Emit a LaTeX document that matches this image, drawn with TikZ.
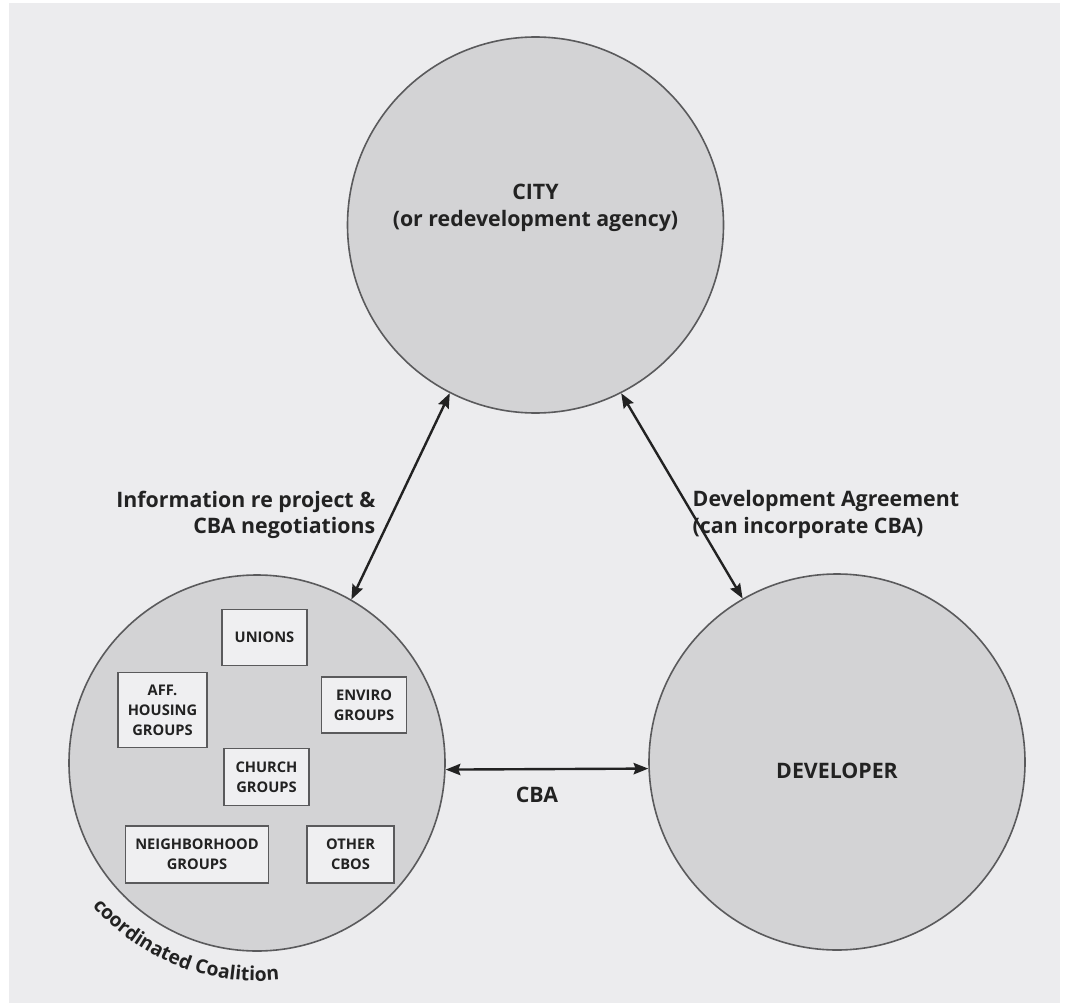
\documentclass[tikz,border=0pt]{standalone}
\usepackage{fontspec}
\setmainfont{Open Sans}
\usetikzlibrary{arrows.meta,decorations.text}
\definecolor{panel}{HTML}{ECECEE}
\definecolor{disc}{HTML}{D3D3D5}
\definecolor{boxfill}{HTML}{EFEFF1}
\definecolor{edge}{HTML}{5A5A5C}
\definecolor{ink}{HTML}{222222}
\tikzset{
  party/.style={circle, draw=edge, line width=1.2pt, fill=disc, minimum size=282pt, inner sep=0pt},
  group/.style={draw=edge, line width=1.1pt, fill=boxfill, align=center, inner sep=0pt,
     font=\bfseries\fontsize{11}{15}\selectfont, text=ink},
  maintext/.style={font=\bfseries\fontsize{16}{20}\selectfont, text=ink},
  link/.style={ink, line width=1.8pt, {Stealth[length=11pt,width=8.5pt,inset=1.5pt]}-{Stealth[length=11pt,width=8.5pt,inset=1.5pt]}}
}
\begin{document}
\begin{tikzpicture}[x=0.75pt,y=-0.75pt]
\useasboundingbox (0,0) rectangle (1068,1006);
\fill[white] (0,0) rectangle (1068,1006);
\fill[panel] (9,3) rectangle (1060,1003);
% parties
\node[party] (city) at (535.5,225) {};
\node[party] (coal) at (257,763) {};
\node[party] (dev) at (837,762) {};
% texts in circles
\node[maintext, align=center] (citytext) at (535.5,208) {CITY\\(or redevelopment agency)};
\node[maintext] (devtext) at (837,771) {DEVELOPER};
% member groups
\node[group, minimum width=64pt, minimum height=42pt] (unions) at (264.5,637.5) {UNIONS};
\node[group, minimum width=67pt, minimum height=56pt] (aff) at (162.5,710) {AFF.\\HOUSING\\GROUPS};
\node[group, minimum width=64pt, minimum height=42pt] (enviro) at (364,705) {ENVIRO\\GROUPS};
\node[group, minimum width=64pt, minimum height=43pt] (church) at (266.5,777) {CHURCH\\GROUPS};
\node[group, minimum width=107pt, minimum height=43pt] (neigh) at (197,854.5) {NEIGHBORHOOD\\GROUPS};
\node[group, minimum width=65pt, minimum height=43pt] (other) at (350.5,854.5) {OTHER\\CBOS};
% coalition caption along arc
\path[decorate, decoration={text along path, text align=left,
   text={|\bfseries\fontsize{14.5}{16}\selectfont\color{ink}|coordinated Coalition}}]
   (257,763) ++(139:218) arc[start angle=139, end angle=40, radius=218];
% connectors
\draw[link] (coal.60) -- (city.243);
\draw[link] (dev.120) -- (city.297);
\draw[link] (coal.-2) -- (dev.182);
% connector labels
\node[maintext, align=right, anchor=north east] (infolabel) at (380,486) {Information re project \&\\CBA negotiations};
\node[maintext, align=left, anchor=north west] (devlabel) at (688,486) {Development Agreement\\(can incorporate CBA)};
\node[maintext] (cbalabel) at (537,795) {CBA};
\end{tikzpicture}
\end{document}
